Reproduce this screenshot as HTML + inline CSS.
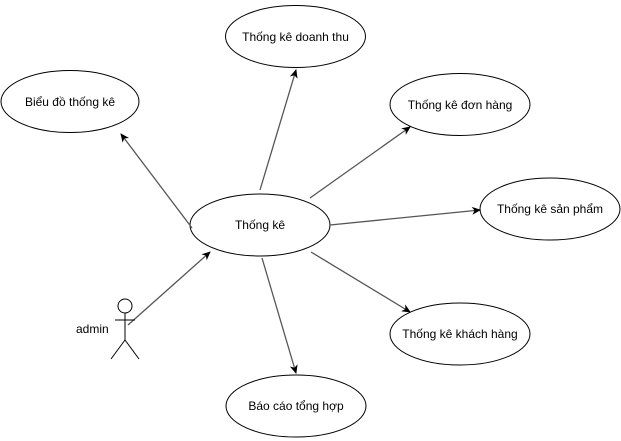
<!DOCTYPE html>
<html><head><meta charset="utf-8"><style>
html,body{margin:0;padding:0;background:#fff;width:621px;height:441px;overflow:hidden}
svg text{font-family:"Liberation Sans",sans-serif;font-size:12px;fill:#000}
</style></head><body>
<svg width="621" height="441" viewBox="0 0 621 441" xmlns="http://www.w3.org/2000/svg">
<defs><marker id="a" markerWidth="10" markerHeight="10" refX="8" refY="5" orient="auto" markerUnits="userSpaceOnUse">
<path d="M0,1 L9,5 L0,9 L2.5,5 Z" fill="#000"/></marker></defs>
<g fill="#fff" stroke="#000" stroke-width="1">
<ellipse cx="295.5" cy="36.5" rx="70" ry="31"/>
<ellipse cx="70" cy="101.5" rx="69" ry="31"/>
<ellipse cx="460" cy="104.5" rx="70" ry="31"/>
<ellipse cx="260" cy="225" rx="70" ry="31"/>
<ellipse cx="550" cy="209" rx="70" ry="31"/>
<ellipse cx="460" cy="334" rx="70" ry="31"/>
<ellipse cx="296" cy="406" rx="70" ry="31"/>
</g>
<g stroke="#555" stroke-width="1.3" fill="none" marker-end="url(#a)">
<line x1="128" y1="325" x2="210" y2="252"/>
<line x1="192" y1="228" x2="121" y2="134"/>
<line x1="260" y1="190" x2="296" y2="70"/>
<line x1="310" y1="198" x2="410" y2="127"/>
<line x1="330" y1="225" x2="480" y2="210"/>
<line x1="311" y1="252" x2="410" y2="312"/>
<line x1="262" y1="258" x2="296" y2="373"/>
</g>
<g stroke="#000" stroke-width="1" fill="#fff">
<circle cx="125" cy="306" r="7"/>
<line x1="125" y1="313" x2="125" y2="340"/>
<line x1="115" y1="320" x2="135" y2="320"/>
<line x1="125" y1="340" x2="111" y2="359"/>
<line x1="125" y1="340" x2="139" y2="359"/>
</g>
<text x="76" y="333">admin</text>
<g text-anchor="middle">
<text x="295.5" y="41">Thống kê doanh thu</text>
<text x="70" y="106">Biểu đồ thống kê</text>
<text x="460" y="109">Thống kê đơn hàng</text>
<text x="260" y="229">Thống kê</text>
<text x="550" y="213">Thống kê sản phẩm</text>
<text x="460" y="338">Thống kê khách hàng</text>
<text x="296" y="410">Báo cáo tổng hợp</text>
</g>
</svg>
</body></html>
